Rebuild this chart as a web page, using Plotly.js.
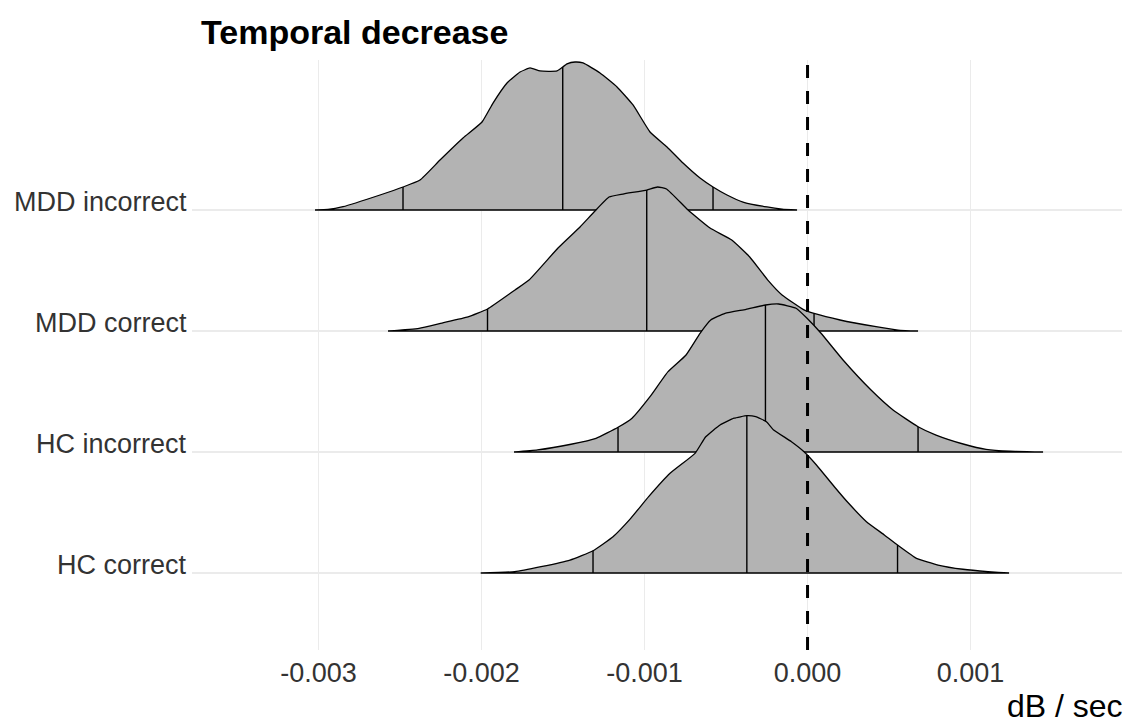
<!DOCTYPE html>
<html>
<head>
<meta charset="utf-8">
<script src="https://cdn.plot.ly/plotly-3.0.1.min.js"></script>
<style>html,body{margin:0;padding:0;background:#fff;}#chart{width:1126px;height:725px;}</style>
</head>
<body>
<div id="chart"></div>
<script>
// Groups (top to bottom) and their row positions
const groups = ["MDD incorrect", "MDD correct", "HC incorrect", "HC correct"];
const rows = [4, 3, 2, 1];

// Density curves: x in dB/sec, height in row units
const mddIncX = [-0.0030215,-0.0029417,-0.0028497,-0.0026227,-0.0024816,-0.0023773,-0.0022546,-0.0021135,-0.0019969,-0.0019294,-0.0018436,-0.0017638,-0.0017025,-0.0016411,-0.0015368,-0.0014755,-0.0014264,-0.0013773,-0.0012730,-0.0011687,-0.0010706,-0.0009663,-0.0008620,-0.0007638,-0.0006595,-0.0005798,-0.0004939,-0.0003957,-0.0002485,-0.0001564,-0.0000644];
const mddIncH = [0,0.004,0.027,0.124,0.190,0.248,0.413,0.595,0.727,0.884,1.050,1.140,1.174,1.149,1.149,1.207,1.223,1.215,1.132,1.017,0.868,0.645,0.521,0.388,0.264,0.190,0.124,0.066,0.025,0.008,0];

const mddCorX = [-0.0025736,-0.0023834,-0.0022423,-0.0020828,-0.0019632,-0.0017945,-0.0017086,-0.0015307,-0.0013957,-0.0013098,-0.0012178,-0.0011319,-0.0009865,-0.0009202,-0.0008650,-0.0007331,-0.0005982,-0.0004650,-0.0003546,-0.0002436,-0.0001564,-0.0000215,0.0000399,0.0001994,0.0004202,0.0005552,0.0006779];
const mddCorH = [0,0.022,0.066,0.116,0.182,0.339,0.421,0.686,0.860,0.983,1.107,1.132,1.165,1.190,1.174,1.000,0.851,0.752,0.612,0.421,0.298,0.174,0.145,0.091,0.036,0.008,0];

const hcIncX = [-0.0018006,-0.0016564,-0.0014509,-0.0012975,-0.0011626,-0.0010767,-0.0009663,-0.0008558,-0.0007454,-0.0006595,-0.0005939,-0.0005061,-0.0003773,-0.0002583,-0.0001773,-0.0000706,-0.0000031,0.0000828,0.0002178,0.0003896,0.0005245,0.0006779,0.0007883,0.0009601,0.0010951,0.0012423,0.0014448];
const hcIncH = [0,0.017,0.064,0.113,0.204,0.279,0.457,0.664,0.802,0.981,1.091,1.146,1.179,1.215,1.223,1.188,1.105,0.981,0.760,0.512,0.347,0.209,0.140,0.064,0.022,0.006,0];

const hcCorX = [-0.0020049,-0.0017969,-0.0016350,-0.0014571,-0.0013160,-0.0011933,-0.0010847,-0.0009748,-0.0008436,-0.0006902,-0.0006245,-0.0005368,-0.0004509,-0.0003724,-0.0003178,-0.0002521,-0.0002080,-0.0000988,-0.0000215,0.0000546,0.0001644,0.0002521,0.0003613,0.0004712,0.0005521,0.0006681,0.0008006,0.0009534,0.0011074,0.0012362];
const hcCorH = [0,0.011,0.052,0.107,0.184,0.300,0.452,0.631,0.824,0.989,1.126,1.223,1.279,1.300,1.292,1.250,1.182,1.085,1.002,0.893,0.713,0.576,0.424,0.314,0.231,0.121,0.066,0.031,0.011,0];

// Quantiles (2.5%, 50%, 97.5%)
const mddIncQ = [-0.0024816,-0.0015018,-0.0005798];
const mddCorQ = [-0.0019632,-0.0009865,0.0000399];
const hcIncQ = [-0.0011626,-0.0002583,0.0006779];
const hcCorQ = [-0.0013160,-0.0003724,0.0005521];

const tickVals = [-0.003,-0.002,-0.001,0,0.001];
const tickText = ["-0.003","-0.002","-0.001","0.000","0.001"];

const curvesX = [mddIncX, mddCorX, hcIncX, hcCorX];
const curvesH = [mddIncH, mddCorH, hcIncH, hcCorH];
const quants = [mddIncQ, mddCorQ, hcIncQ, hcCorQ];

function interp(xs, hs, q) {
  for (let i = 0; i < xs.length - 1; i++) {
    if (q >= xs[i] && q <= xs[i+1]) {
      const t = (q - xs[i]) / (xs[i+1] - xs[i]);
      return hs[i] + t * (hs[i+1] - hs[i]);
    }
  }
  return 0;
}

const traces = [];
for (let g = 0; g < groups.length; g++) {
  const xs = curvesX[g], hs = curvesH[g], base = rows[g];
  const px = xs.slice(), py = hs.map(h => base + h);
  px.push(xs[xs.length-1], xs[0], xs[0]);
  py.push(base, base, base + hs[0]);
  traces.push({
    type: 'scatter', mode: 'lines', x: px, y: py,
    fill: 'toself', fillcolor: '#B3B3B3',
    line: {color: '#000000', width: 1.3, shape: 'spline', smoothing: 0.4},
    hoverinfo: 'skip', showlegend: false
  });
  const qx = [], qy = [];
  quants[g].forEach(q => {
    qx.push(q, q, null);
    qy.push(base, base + interp(xs, hs, q), null);
  });
  traces.push({
    type: 'scatter', mode: 'lines', x: qx, y: qy,
    line: {color: '#000000', width: 1.4},
    hoverinfo: 'skip', showlegend: false
  });
}

const labelFont = {size: 27, color: '#333333', family: 'Liberation Sans, Arial, sans-serif'};
const annotations = groups.map((g, i) => ({
  text: g, xref: 'paper', yref: 'y', x: 0, y: rows[i],
  xanchor: 'right', yanchor: 'middle', xshift: -3, yshift: 8,
  showarrow: false, font: labelFont
}));
annotations.push({
  text: 'dB / sec', xref: 'paper', yref: 'paper', x: 1, y: -0.0949,
  xanchor: 'right', yanchor: 'middle', xshift: 3, showarrow: false,
  font: {size: 32, color: '#000000', family: 'Liberation Sans, Arial, sans-serif'}
});

const layout = {
  width: 1126, height: 725,
  margin: {l: 192, r: 4, t: 60, b: 75},
  paper_bgcolor: '#ffffff', plot_bgcolor: '#ffffff',
  font: {family: 'Liberation Sans, Arial, sans-serif', color: '#333333'},
  title: {
    text: '<b>Temporal decrease</b>',
    font: {size: 34, color: '#000000', family: 'Liberation Sans, Arial, sans-serif'},
    xref: 'container', yref: 'container',
    x: 201/1126, xanchor: 'left', y: 1 - 32/725, yanchor: 'middle'
  },
  xaxis: {
    range: [-0.003776, 0.001929],
    tickvals: tickVals, ticktext: tickText,
    showgrid: true, gridcolor: '#EBEBEB', gridwidth: 1.3,
    zeroline: false, showline: false, ticks: '',
    tickfont: {size: 27, color: '#333333'},
    ticklabelstandoff: 4
  },
  yaxis: {
    range: [0.3636, 5.2397],
    tickvals: rows, ticktext: rows.map(() => ''),
    showgrid: true, gridcolor: '#EBEBEB', gridwidth: 1.3,
    zeroline: false, showline: false, ticks: ''
  },
  shapes: [{
    type: 'line', xref: 'x', yref: 'paper', x0: 0, x1: 0, y0: 0, y1: 1,
    line: {color: '#000000', width: 3, dash: '13px,13px'}, layer: 'above'
  }],
  annotations: annotations
};

Plotly.newPlot('chart', traces, layout, {displayModeBar: false, staticPlot: true});
</script>
</body>
</html>
